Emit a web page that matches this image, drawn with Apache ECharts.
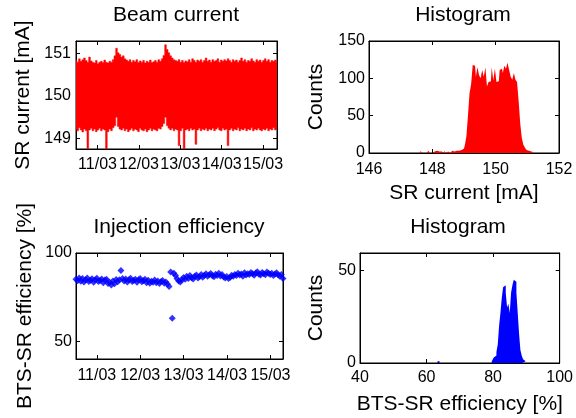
<!DOCTYPE html>
<html><head><meta charset="utf-8">
<script src="https://cdn.jsdelivr.net/npm/echarts@6/dist/echarts.min.js"></script>
<style>html,body{margin:0;padding:0;background:#fff}#c{width:576px;height:418px}</style>
</head><body><div id="c"></div>
<script>
// ---------- Beam current (SR current, mA) sampled envelope ----------
var beamStartDay = 10.48, beamEndDay = 15.335;
var beamHigh = [
 150.85,150.80,150.88,150.82,150.86,150.90,150.84,150.80,150.92,150.83,
 150.80,150.78,150.84,150.76,150.80,150.82,150.79,150.85,150.80,150.78,
 150.82,150.80,150.86,150.95,151.13,151.02,150.98,150.92,150.95,150.88,
 150.85,150.82,150.86,150.80,150.84,150.81,150.86,150.79,150.83,150.80,
 150.84,150.78,150.82,150.80,150.85,150.79,150.81,150.84,150.80,150.86,
 150.82,150.88,150.96,151.21,151.10,151.02,150.95,150.90,150.86,150.84,
 150.82,150.86,150.80,150.84,150.79,150.83,150.81,150.86,150.80,150.88,
 150.84,150.80,150.85,150.82,150.86,150.80,150.84,150.90,150.82,150.85,
 150.80,150.86,150.82,150.84,150.88,150.80,150.85,150.82,150.86,150.83,
 150.88,150.84,150.80,150.86,150.82,150.85,150.80,150.84,150.90,150.82,
 150.86,150.80,150.84,150.82,150.88,150.83,150.80,150.86,150.82,150.85,
 150.80,150.84,150.88,150.82,150.86,150.80,150.84,150.82,150.85,150.80];
var beamLow = [
 149.22,149.18,149.25,149.20,149.15,149.22,149.18,148.70,149.20,149.24,
 149.18,149.22,149.16,149.20,149.24,149.18,149.22,149.20,148.70,149.16,
 149.22,149.18,149.25,149.30,149.50,149.28,149.22,149.20,149.24,149.18,
 149.22,149.16,149.20,149.24,149.18,149.22,149.20,149.16,149.24,149.20,
 149.18,149.22,149.16,149.20,149.24,149.18,149.22,149.20,149.18,149.24,
 149.22,149.28,149.35,149.50,149.30,149.24,149.20,149.24,149.18,149.22,
 149.20,148.83,149.18,149.24,148.70,149.20,149.22,149.18,149.24,149.20,
 149.22,148.86,149.20,149.24,149.18,149.22,149.20,149.24,149.18,149.22,
 149.20,149.24,149.18,149.22,149.25,149.20,149.18,149.24,149.20,149.22,
 148.83,149.20,149.24,149.18,149.22,149.20,149.25,149.18,149.22,149.20,
 149.24,149.18,149.22,149.20,149.25,149.18,149.22,149.20,149.24,149.20,
 149.18,149.22,149.20,149.24,149.18,149.22,149.20,149.25,149.20,149.22];

// ---------- Histogram of SR current ----------
var curBinStart = 147.55, curBinWidth = 0.05;
var curCounts = [
 0,0,3,0,0,0,2,3,0,0, 2,0,3,2,0,2,0,3,0,2,
 0,2,3,2,3,2,3,4,5,6, 10,22,50,80,92,118,117,102,115,104,
 100,111,102,115,89,95,96,115,97,113, 95,96,111,113,107,117,113,121,111,102,
 98,107,98,95,70,40,20,11,7,4, 3,2,1,1,0];

// ---------- Injection efficiency (BTS-SR, %) ----------
var effStartDay = 10.52, effEndDay = 15.29;
var effValues = [
 85.2,84.3,85.8,84.0,85.5,83.6,84.8,85.9,83.8,84.6,
 85.4,83.5,84.9,85.7,83.9,84.4,85.3,83.2,84.7,85.1,
 82.8,83.4,81.9,84.2,82.6,85.0,83.7,84.9,90.1,85.6,
 84.1,85.3,83.6,84.8,85.7,83.9,84.5,85.2,83.4,84.9,
 85.5,83.7,84.3,85.1,83.2,84.6,82.9,84.0,83.5,84.7,
 83.1,84.2,82.7,83.8,84.5,82.9,83.6,82.4,81.0,89.2,
 63.0,88.6,87.3,85.4,84.1,83.6,84.9,86.2,85.1,86.8,
 85.6,87.2,86.0,85.3,86.9,87.5,85.8,86.6,87.9,86.3,
 87.4,88.2,86.9,87.7,88.4,87.1,86.5,88.0,87.3,88.6,
 87.0,87.8,86.4,85.9,86.7,85.6,86.2,87.4,86.8,87.9,
 87.2,88.5,87.6,88.1,86.9,88.8,87.5,88.3,87.9,89.0,
 88.2,87.4,88.7,89.4,88.0,87.6,88.9,88.3,87.7,89.2,
 88.5,87.9,88.6,87.3,88.1,88.8,87.6,86.9,87.8,85.6];

// ---------- Histogram of efficiency ----------
var effBinCenters = [79.6,80.0,80.4,80.8,81.2,81.6,82.0,82.4,82.8,83.2,83.6,84.0,84.4,84.8,85.2,85.6,86.0,86.4,86.8,87.2,87.6,88.0,88.4,88.8,89.2,89.6,90.0];
var effCounts     = [1,2,3,4,6,10,20,27,35,41,42,38,30,32,27,38,42,45,44,38,27,16,7,4,2,1,0];
var effOutlierCenters = [63.6];
var effOutlierCounts  = [1];

// ---------- Ticks ----------
var dayTicks = [11,12,13,14,15];
var dayTickLabels = ['11/03','12/03','13/03','14/03','15/03'];
var beamTicks = [149,150,151];
var curTicks = [146,148,150,152];
var countTicks1 = [0,50,100,150];
var effTicks = [50,100];
var effHistTicks = [40,60,80,100];
var countTicks2 = [0,50];

// ---------- build ----------
function sampleTimes(startD, endD, n){
  var step = (endD-startD)/(n-1), out=[];
  for (var i=0;i<n;i++) out.push(startD+i*step);
  return out;
}
var beamTimes = sampleTimes(beamStartDay, beamEndDay, beamLow.length);
var beamStep = (beamEndDay-beamStartDay)/(beamLow.length-1);
var beamData = beamTimes.map(function(t,i){ return [t, beamLow[i], beamHigh[i]]; });
var effTimes = sampleTimes(effStartDay, effEndDay, effValues.length);
var effData = effTimes.map(function(t,i){ return [t, effValues[i]]; });
var curHistData = curCounts.map(function(c,i){ return [curBinStart + i*curBinWidth, c]; });
var effHistData = effBinCenters.map(function(x,i){ return [x, effCounts[i]]; });
var effOutData = effOutlierCenters.map(function(x,i){ return [x, effOutlierCounts[i]]; });

var TICKFONT = "'Liberation Sans',Arial,sans-serif";
var LABFONT = "'Liberation Sans',Arial,sans-serif";

function dayFmt(v){ var i = dayTicks.indexOf(Math.round(v)); return i>=0 ? dayTickLabels[i] : ''; }

function axis(gi, min, max, ticks, opts){
  opts = opts || {};
  var a = {
    type:'value', gridIndex:gi, min:min, max:max, position:opts.position,
    axisLine:{show:true, onZero:false, lineStyle:{color:'#000', width:1}},
    axisTick:{show:true, inside:true, length:4, customValues:ticks, lineStyle:{color:'#000'}},
    axisLabel:{show:!opts.mirror, customValues:ticks, color:'#000', fontFamily:TICKFONT, fontSize:16,
               showMinLabel:true, showMaxLabel:true, hideOverlap:false,
               margin: opts.margin!=null?opts.margin:5, formatter: opts.formatter || function(v){return String(v);} },
    splitLine:{show:false}
  };
  if (opts.name){
    a.name = opts.name; a.nameLocation='middle'; a.nameGap=opts.nameGap;
    a.nameTextStyle = {color:'#000', fontFamily:LABFONT, fontSize:21};
  }
  return a;
}

var grids = [
  {left:76, top:41, width:201, height:108},
  {left:369, top:41, width:190, height:112},
  {left:76, top:253, width:207, height:106},
  {left:360, top:253, width:200, height:110}
];
grids.forEach(function(g){ g.show=true; g.borderColor='#000'; g.borderWidth=1; g.backgroundColor='#fff'; });

var xAxes = [
  axis(0, beamStartDay, beamEndDay, dayTicks, {position:'bottom', formatter:dayFmt, margin:8}),
  axis(1, 146, 152, curTicks, {position:'bottom', margin:9, name:'SR current [mA]', nameGap:30}),
  axis(2, effStartDay, effEndDay, dayTicks, {position:'bottom', formatter:dayFmt, margin:9}),
  axis(3, 40, 100, effHistTicks, {position:'bottom', margin:7, name:'BTS-SR efficiency [%]', nameGap:31}),
  axis(0, beamStartDay, beamEndDay, dayTicks, {position:'top', mirror:true}),
  axis(1, 146, 152, curTicks, {position:'top', mirror:true}),
  axis(2, effStartDay, effEndDay, dayTicks, {position:'top', mirror:true}),
  axis(3, 40, 100, effHistTicks, {position:'top', mirror:true})
];
var yAxes = [
  axis(0, 148.75, 151.3, beamTicks, {position:'left', name:'SR current [mA]', nameGap:42, margin:5}),
  axis(1, 0, 150, countTicks1, {position:'left', name:'Counts', nameGap:42, margin:4}),
  axis(2, 40, 100, effTicks, {position:'left', name:'BTS-SR efficiency [%]', nameGap:40, margin:4}),
  axis(3, 0, 59.5, countTicks2, {position:'left', name:'Counts', nameGap:33, margin:4}),
  axis(0, 148.75, 151.3, beamTicks, {position:'right', mirror:true}),
  axis(1, 0, 150, countTicks1, {position:'right', mirror:true}),
  axis(2, 40, 100, effTicks, {position:'right', mirror:true}),
  axis(3, 0, 59.5, countTicks2, {position:'right', mirror:true})
];

var titleStyle = {color:'#000', fontFamily:LABFONT, fontSize:21, fontWeight:'normal'};
var option = {
  animation:false,
  backgroundColor:'#fff',
  title:[
    {text:'Beam current', left:176, top:5, textAlign:'center', padding:0, textStyle:titleStyle},
    {text:'Histogram', left:463, top:5, textAlign:'center', padding:0, textStyle:titleStyle},
    {text:'Injection efficiency', left:179, top:217, textAlign:'center', padding:0, textStyle:titleStyle},
    {text:'Histogram', left:458, top:217, textAlign:'center', padding:0, textStyle:titleStyle}
  ],
  grid:grids, xAxis:xAxes, yAxis:yAxes,
  series:[
    {type:'custom', xAxisIndex:0, yAxisIndex:0, data:beamData, clip:true,
     encode:{x:0, y:[1,2]},
     renderItem:function(params, api){
       if (params.dataIndex !== 0) return null;
       var top = [], bot = [];
       for (var i=0;i<beamData.length;i++){
         var d = beamData[i];
         top.push(api.coord([d[0]-beamStep/2, d[2]]));
         top.push(api.coord([d[0]+beamStep/2, d[2]]));
         bot.push(api.coord([d[0]-beamStep/2, d[1]]));
         bot.push(api.coord([d[0]+beamStep/2, d[1]]));
       }
       var pts = top.concat(bot.reverse());
       return {type:'polygon', shape:{points:pts}, style:{fill:'#ff0000', stroke:'#ff0000', lineWidth:0.5}};
     }},
    {type:'line', xAxisIndex:1, yAxisIndex:1, data:curHistData, step:'middle', symbol:'none',
     lineStyle:{width:0, opacity:0}, areaStyle:{color:'#ff0000', opacity:1}},
    {type:'scatter', xAxisIndex:2, yAxisIndex:2, data:effData, symbol:'diamond', symbolSize:7,
     itemStyle:{color:'#0000ff'}},
    {type:'line', xAxisIndex:3, yAxisIndex:3, data:effHistData, step:'middle', symbol:'none',
     lineStyle:{width:0, opacity:0}, areaStyle:{color:'#0000ff', opacity:1}},
    {type:'bar', xAxisIndex:3, yAxisIndex:3, data:effOutData, barWidth:2, itemStyle:{color:'#0000ff'}}
  ]
};
var chart = echarts.init(document.getElementById('c'), null, {renderer:'canvas'});
chart.setOption(option);
</script></body></html>
